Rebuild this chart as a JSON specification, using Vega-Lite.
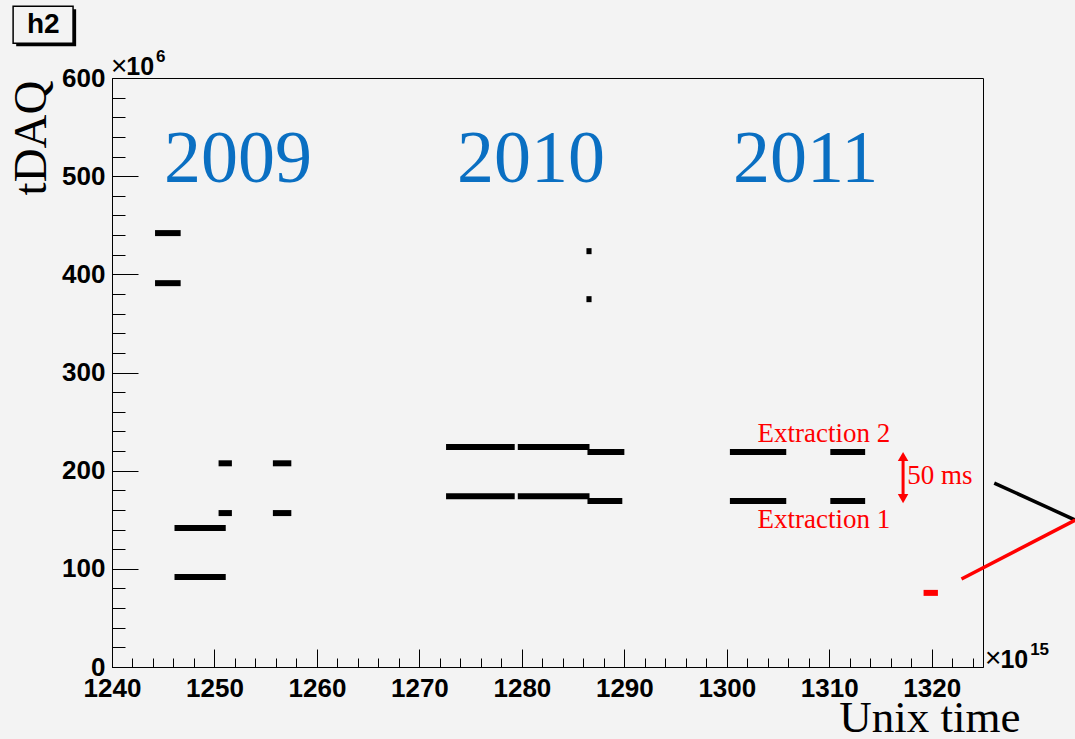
{
  "$schema": "https://vega.github.io/schema/vega-lite/v6.json",
  "width": 871,
  "height": 589,
  "autosize": {"type": "none"},
  "padding": {"left": 112, "top": 78, "right": 92, "bottom": 72},
  "background": "#f3f3f3",
  "config": {
    "view": {"stroke": "black", "strokeWidth": 1, "fill": "#f3f3f3"},
    "axis": {"grid": false, "domainColor": "black", "tickColor": "black", "labelColor": "black", "titleColor": "black", "labelFlush": false, "labelOverlap": false, "labelBound": false}
  },
  "resolve": {"axis": {"x": "independent", "y": "independent"}},
  "datasets": {
    "segments": [
      {"t1": 1244.2, "t2": 1246.7, "tdaq": 442, "group": "main"},
      {"t1": 1244.2, "t2": 1246.7, "tdaq": 391, "group": "main"},
      {"t1": 1246.1, "t2": 1251.1, "tdaq": 141.5, "group": "main"},
      {"t1": 1246.1, "t2": 1251.1, "tdaq": 91.6, "group": "main"},
      {"t1": 1250.4, "t2": 1251.7, "tdaq": 207.5, "group": "main"},
      {"t1": 1250.4, "t2": 1251.7, "tdaq": 156.8, "group": "main"},
      {"t1": 1255.7, "t2": 1257.5, "tdaq": 207.5, "group": "main"},
      {"t1": 1255.7, "t2": 1257.5, "tdaq": 156.8, "group": "main"},
      {"t1": 1272.6, "t2": 1279.3, "tdaq": 224, "group": "main"},
      {"t1": 1279.6, "t2": 1286.6, "tdaq": 224, "group": "main"},
      {"t1": 1286.4, "t2": 1290.0, "tdaq": 219, "group": "main"},
      {"t1": 1272.6, "t2": 1279.3, "tdaq": 174, "group": "main"},
      {"t1": 1279.6, "t2": 1286.6, "tdaq": 174, "group": "main"},
      {"t1": 1286.4, "t2": 1289.8, "tdaq": 169, "group": "main"},
      {"t1": 1286.3, "t2": 1286.8, "tdaq": 423.6, "group": "main"},
      {"t1": 1286.3, "t2": 1286.8, "tdaq": 374.7, "group": "main"},
      {"t1": 1300.3, "t2": 1305.8, "tdaq": 219, "group": "main"},
      {"t1": 1310.1, "t2": 1313.5, "tdaq": 219, "group": "main"},
      {"t1": 1300.3, "t2": 1305.8, "tdaq": 169, "group": "main"},
      {"t1": 1310.1, "t2": 1313.5, "tdaq": 169, "group": "main"},
      {"t1": 1319.2, "t2": 1320.6, "tdaq": 75.5, "group": "selected"}
    ],
    "years": [
      {"label": "2009", "t": 1252.3, "tdaq": 494},
      {"label": "2010", "t": 1280.9, "tdaq": 494},
      {"label": "2011", "t": 1307.7, "tdaq": 494}
    ],
    "notes": [
      {"label": "Extraction 2", "t": 1303.0, "tdaq": 229.5},
      {"label": "Extraction 1", "t": 1303.0, "tdaq": 141.5},
      {"label": "50 ms", "t": 1317.6, "tdaq": 186.4}
    ],
    "arrow": [{"t": 1317.2, "lo": 172, "hi": 214, "group": "selected"}],
    "heads": [
      {"t": 1317.2, "tdaq": 214.5, "dir": "up"},
      {"t": 1317.2, "tdaq": 171.5, "dir": "down"}
    ],
    "pointers": [
      {"t1": 1326.1, "v1": 187.4, "t2": 1334.0, "v2": 149.7, "group": "main"},
      {"t1": 1322.9, "v1": 89.6, "t2": 1334.0, "v2": 149.7, "group": "selected"}
    ],
    "times": [
      {"label": "×", "t": 1239.9, "tdaq": 603.5},
      {"label": "×", "t": 1325.2, "tdaq": -0.5}
    ],
    "ten": [
      {"label": "10", "t": 1241.4, "tdaq": 602.9},
      {"label": "10", "t": 1326.7, "tdaq": -1}
    ],
    "sup": [
      {"label": "6", "t": 1244.3, "tdaq": 616},
      {"label": "15", "t": 1329.6, "tdaq": 12.5}
    ],
    "box": [{"t1": 1230.35, "t2": 1236.2, "v1": 635.4, "v2": 673.1, "label": "h2", "tc": 1233.3, "vc": 654}],
    "shadow": [{"t1": 1230.65, "t2": 1236.5, "v1": 632.3, "v2": 670}]
  },
  "layer": [
    {
      "data": {"name": "segments"},
      "mark": {"type": "rule", "strokeWidth": 6, "strokeCap": "butt"},
      "encoding": {
        "x": {
          "field": "t1", "type": "quantitative",
          "scale": {"domain": [1240, 1325], "nice": false, "zero": false},
          "axis": {
            "orient": "bottom",
            "title": "Unix time",
            "values": [1240, 1250, 1260, 1270, 1280, 1290, 1300, 1310, 1320],
            "format": "d",
            "tickSize": -18,
            "labelPadding": 26,
            "labelOverlap": false,
            "labelFont": "Liberation Sans", "labelFontWeight": "bold", "labelFontSize": 26,
            "titleFont": "Liberation Serif", "titleFontSize": 45, "titleFontWeight": "normal",
            "titleX": 908, "titleY": 64, "titleAlign": "right", "titleBaseline": "alphabetic", "titleAngle": 0
          }
        },
        "x2": {"field": "t2"},
        "y": {
          "field": "tdaq", "type": "quantitative",
          "scale": {"domain": [0, 600], "nice": false},
          "axis": {
            "orient": "left",
            "title": "tDAQ",
            "values": [0, 100, 200, 300, 400, 500, 600],
            "format": "d",
            "tickSize": -26,
            "labelPadding": 33,
            "labelOverlap": false,
            "labelFont": "Liberation Sans", "labelFontWeight": "bold", "labelFontSize": 26,
            "titleFont": "Liberation Serif", "titleFontSize": 47, "titleFontWeight": "normal",
            "titleX": -67, "titleY": 2, "titleAlign": "right", "titleBaseline": "alphabetic", "titleAngle": 270
          }
        },
        "color": {"field": "group", "type": "nominal", "scale": {"domain": ["main", "selected"], "range": ["black", "#ff0000"]}, "legend": null}
      }
    },
    {
      "data": {"name": "notes"},
      "mark": {"type": "text", "font": "Liberation Serif", "fontSize": 27, "color": "#ff0000", "align": "left", "baseline": "alphabetic"},
      "encoding": {
        "x": {
          "field": "t", "type": "quantitative",
          "axis": {"orient": "bottom", "title": null, "labels": false, "domain": false, "tickSize": -9,
            "values": [1242,1244,1246,1248,1252,1254,1256,1258,1262,1264,1266,1268,1272,1274,1276,1278,1282,1284,1286,1288,1292,1294,1296,1298,1302,1304,1306,1308,1312,1314,1316,1318,1322,1324]}
        },
        "y": {
          "field": "tdaq", "type": "quantitative",
          "axis": {"orient": "left", "title": null, "labels": false, "domain": false, "tickSize": -13,
            "values": [20,40,60,80,120,140,160,180,220,240,260,280,320,340,360,380,420,440,460,480,520,540,560,580]}
        },
        "text": {"field": "label"}
      }
    },
    {
      "data": {"name": "years"},
      "mark": {"type": "text", "font": "Liberation Serif", "fontSize": 74, "color": "#0a6fc2", "align": "center", "baseline": "alphabetic"},
      "encoding": {
        "x": {"field": "t", "type": "quantitative", "axis": null},
        "y": {"field": "tdaq", "type": "quantitative", "axis": null},
        "text": {"field": "label"}
      }
    },
    {
      "data": {"name": "arrow"},
      "mark": {"type": "rule", "strokeWidth": 3},
      "encoding": {
        "x": {"field": "t", "type": "quantitative", "axis": null},
        "y": {"field": "lo", "type": "quantitative", "axis": null},
        "y2": {"field": "hi"},
        "color": {"field": "group", "type": "nominal", "legend": null}
      }
    },
    {
      "data": {"name": "heads"},
      "mark": {"type": "point", "filled": true, "color": "#ff0000", "opacity": 1, "size": 110},
      "encoding": {
        "x": {"field": "t", "type": "quantitative", "axis": null},
        "y": {"field": "tdaq", "type": "quantitative", "axis": null},
        "shape": {"field": "dir", "type": "nominal", "scale": {"domain": ["up", "down"], "range": ["triangle-up", "triangle-down"]}, "legend": null}
      }
    },
    {
      "data": {"name": "pointers"},
      "mark": {"type": "rule", "strokeWidth": 3.5},
      "encoding": {
        "x": {"field": "t1", "type": "quantitative", "axis": null},
        "y": {"field": "v1", "type": "quantitative", "axis": null},
        "x2": {"field": "t2"},
        "y2": {"field": "v2"},
        "color": {"field": "group", "type": "nominal", "legend": null}
      }
    },
    {
      "data": {"name": "times"},
      "mark": {"type": "text", "font": "Liberation Sans", "fontSize": 28, "color": "black", "align": "left", "baseline": "alphabetic"},
      "encoding": {
        "x": {"field": "t", "type": "quantitative", "axis": null},
        "y": {"field": "tdaq", "type": "quantitative", "axis": null},
        "text": {"field": "label"}
      }
    },
    {
      "data": {"name": "ten"},
      "mark": {"type": "text", "font": "Liberation Sans", "fontWeight": "bold", "fontSize": 25, "color": "black", "align": "left", "baseline": "alphabetic"},
      "encoding": {
        "x": {"field": "t", "type": "quantitative", "axis": null},
        "y": {"field": "tdaq", "type": "quantitative", "axis": null},
        "text": {"field": "label"}
      }
    },
    {
      "data": {"name": "sup"},
      "mark": {"type": "text", "font": "Liberation Sans", "fontWeight": "bold", "fontSize": 17, "color": "black", "align": "left", "baseline": "alphabetic"},
      "encoding": {
        "x": {"field": "t", "type": "quantitative", "axis": null},
        "y": {"field": "tdaq", "type": "quantitative", "axis": null},
        "text": {"field": "label"}
      }
    },
    {
      "data": {"name": "shadow"},
      "mark": {"type": "rect", "color": "black"},
      "encoding": {
        "x": {"field": "t1", "type": "quantitative", "axis": null},
        "x2": {"field": "t2"},
        "y": {"field": "v1", "type": "quantitative", "axis": null},
        "y2": {"field": "v2"}
      }
    },
    {
      "data": {"name": "box"},
      "mark": {"type": "rect", "fill": "#f3f3f3", "stroke": "black", "strokeWidth": 1.5},
      "encoding": {
        "x": {"field": "t1", "type": "quantitative", "axis": null},
        "x2": {"field": "t2"},
        "y": {"field": "v1", "type": "quantitative", "axis": null},
        "y2": {"field": "v2"}
      }
    },
    {
      "data": {"name": "box"},
      "mark": {"type": "text", "font": "Liberation Sans", "fontWeight": "bold", "fontSize": 28, "color": "black", "align": "center", "baseline": "middle"},
      "encoding": {
        "x": {"field": "tc", "type": "quantitative", "axis": null},
        "y": {"field": "vc", "type": "quantitative", "axis": null},
        "text": {"field": "label"}
      }
    }
  ]
}
